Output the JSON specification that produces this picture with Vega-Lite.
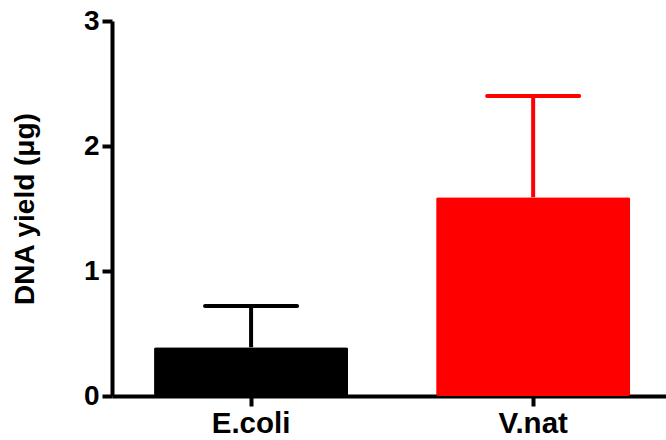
{
  "$schema": "https://vega.github.io/schema/vega-lite/v6.json",
  "width": 554,
  "height": 375,
  "autosize": "none",
  "padding": {"left": 112, "top": 21, "right": 0, "bottom": 44},
  "background": "white",
  "config": {
    "view": {"stroke": null},
    "font": "Liberation Sans",
    "axis": {
      "grid": false,
      "domainColor": "black",
      "domainWidth": 4,
      "tickColor": "black",
      "tickWidth": 4,
      "tickSize": 10,
      "labelFont": "Liberation Sans",
      "labelFontWeight": "bold",
      "labelFontSize": 28,
      "labelColor": "black",
      "titleFont": "Liberation Sans",
      "titleFontWeight": "bold",
      "titleFontSize": 28,
      "titleColor": "black"
    }
  },
  "data": {
    "values": [
      {"strain": "E.coli", "mean": 0.39, "upper": 0.72},
      {"strain": "V.nat", "mean": 1.59, "upper": 2.40}
    ]
  },
  "encoding": {
    "x": {
      "field": "strain",
      "type": "nominal",
      "sort": null,
      "scale": {"paddingInner": 0.312, "paddingOuter": 0.138, "align": 0.54},
      "axis": {"title": null, "labelAngle": 0, "labelPadding": 3, "labelFontSize": 29.5}
    },
    "color": {
      "field": "strain",
      "type": "nominal",
      "scale": {"domain": ["E.coli", "V.nat"], "range": ["#000000", "#ff0000"]},
      "legend": null
    }
  },
  "layer": [
    {
      "mark": {"type": "rule", "strokeWidth": 4, "opacity": 1},
      "encoding": {
        "y": {"field": "mean", "type": "quantitative"},
        "y2": {"field": "upper"}
      }
    },
    {
      "mark": {"type": "tick", "thickness": 4, "size": 96, "cornerRadius": 2, "opacity": 1},
      "encoding": {
        "y": {"field": "upper", "type": "quantitative"}
      }
    },
    {
      "mark": {"type": "bar", "cornerRadius": 2, "opacity": 1},
      "encoding": {
        "y": {
          "field": "mean",
          "type": "quantitative",
          "scale": {"domain": [0, 3], "nice": false},
          "axis": {"values": [0, 1, 2, 3], "format": "d", "title": "DNA yield (μg)", "titlePadding": 44, "labelPadding": 3}
        }
      }
    }
  ]
}
